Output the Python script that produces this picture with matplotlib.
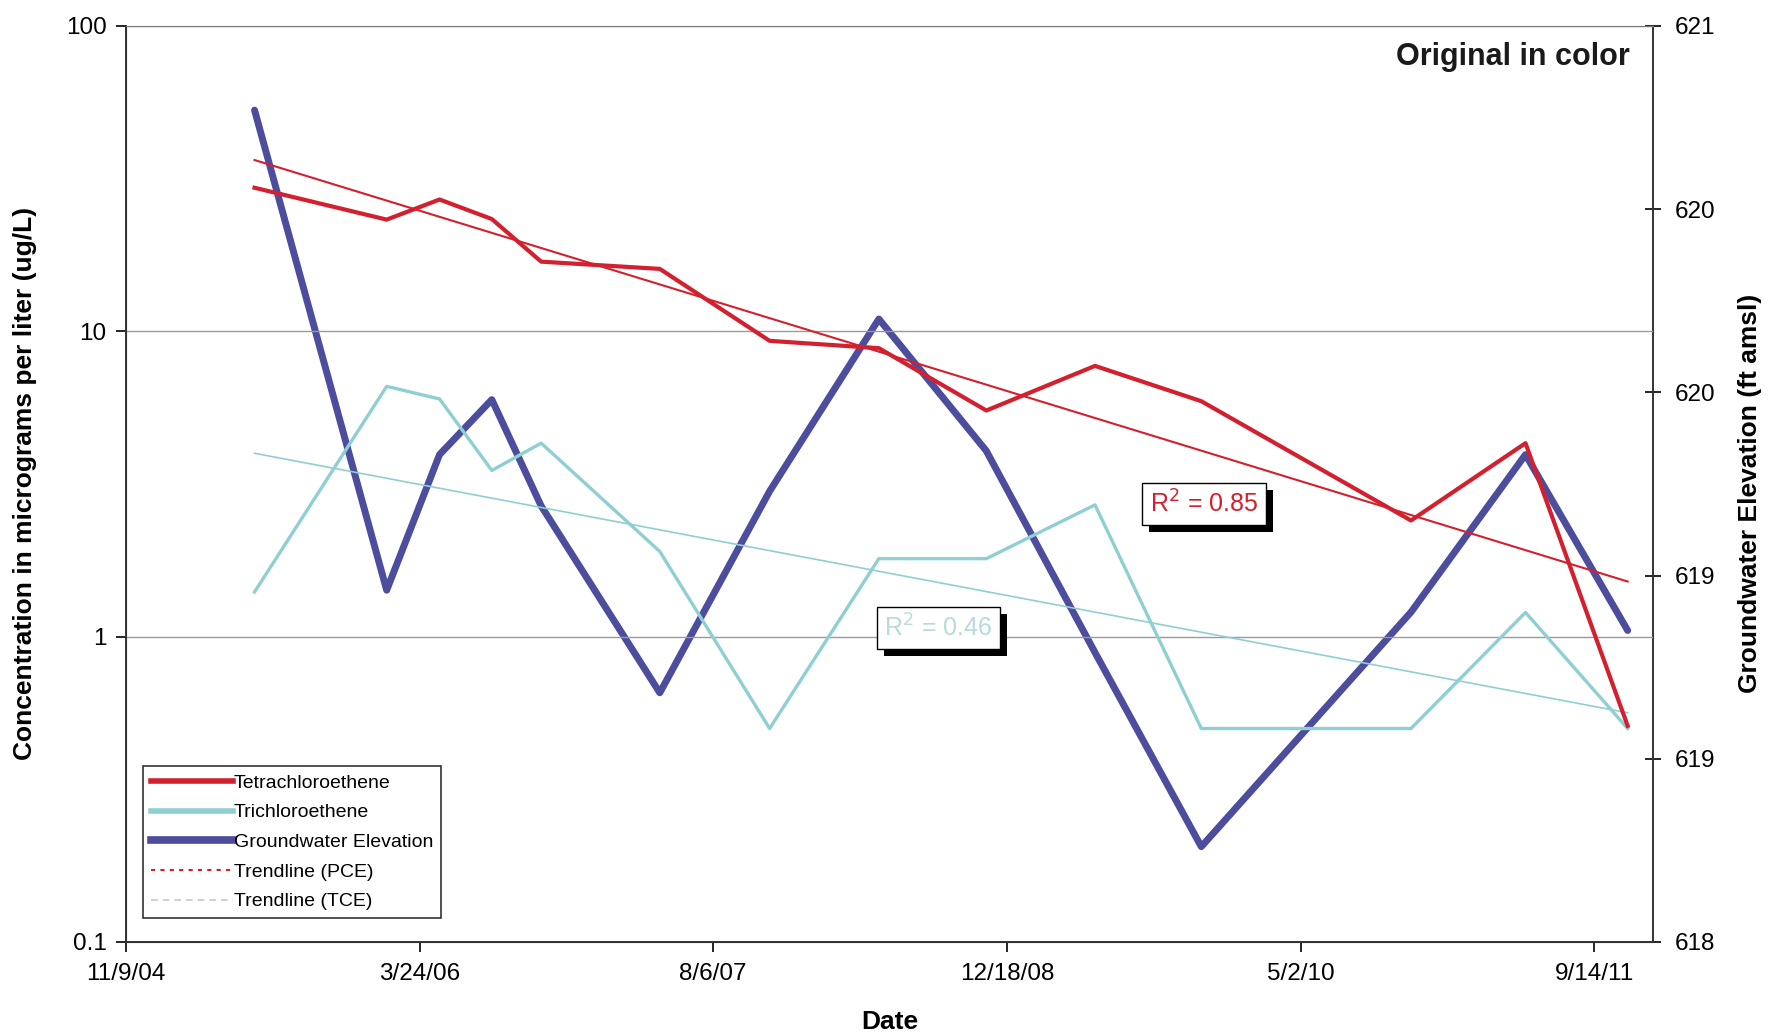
import numpy as np
import pandas as pd
import matplotlib
matplotlib.use('Agg')
import matplotlib.pyplot as plt
import matplotlib.dates as mdates
import matplotlib.patheffects as pe
from matplotlib.lines import Line2D
from matplotlib.ticker import FixedLocator, FuncFormatter, NullLocator

plt.rcParams['font.family'] = ['Liberation Sans', 'DejaVu Sans']

# sampling events
sample_dates = pd.to_datetime([
    '2005-06-16', '2006-01-27', '2006-04-27', '2006-07-25', '2006-10-17',
    '2007-05-07', '2007-11-10', '2008-05-14', '2008-11-13', '2009-05-17',
    '2009-11-14', '2010-11-06', '2011-05-20', '2011-11-10'])

# concentrations, ug/L
pce = [29.5, 23.2, 27.0, 23.3, 16.9, 16.0, 9.3, 8.8, 5.5, 7.7, 5.9, 2.4, 4.3, 0.51]
tce = [1.4, 6.6, 6.0, 3.5, 4.3, 1.9, 0.5, 1.8, 1.8, 2.7, 0.5, 0.5, 1.2, 0.5]

# groundwater elevation, ft amsl
gw_elev = [620.27, 618.96, 619.33, 619.48, 619.19, 618.68, 619.23, 619.70,
           619.34, 618.79, 618.26, 618.90, 619.33, 618.85]

conc_ticks = [0.1, 1, 10, 100]
elev_ticks = [618, 618.5, 619, 619.5, 620, 620.5]
date_ticks = pd.date_range('2004-11-09', periods=6, freq='500D')
x_end = pd.Timestamp('2011-12-23')
r2_text = ['0.85', '0.46']

red = '#d3202f'
cyan = '#8fcfd2'
blue = '#4d4d9e'


def exp_trend(dates, vals):
    # excel style exponential trendline: fit ln(y) against date
    t = mdates.date2num(dates)
    coef = np.polyfit(t, np.log(vals), 1)
    return np.exp(np.polyval(coef, t))


fig = plt.figure(figsize=(17.81, 10.34), dpi=100)
ax = fig.add_axes([0.0707, 0.089, 0.8574, 0.886])
ax2 = ax.twinx()
ax.set_zorder(ax2.get_zorder() + 1)
ax.patch.set_visible(False)

ax2.plot(sample_dates, gw_elev, color=blue, lw=5, solid_capstyle='round', zorder=2)

ax.plot(sample_dates, tce, color=cyan, lw=2.4, zorder=3)
ax.plot(sample_dates, exp_trend(sample_dates, tce), color=cyan, lw=1.2, zorder=3)
ax.plot(sample_dates, pce, color=red, lw=3, zorder=4)
ax.plot(sample_dates, exp_trend(sample_dates, pce), color=red, lw=1.5, zorder=4)

ax.set_yscale('log')
ax.set_ylim(conc_ticks[0], conc_ticks[-1])
ax.yaxis.set_major_locator(FixedLocator(conc_ticks))
ax.yaxis.set_minor_locator(NullLocator())
ax.yaxis.set_major_formatter(FuncFormatter(lambda v, p: '%g' % v))
ax.grid(axis='y', color='#9a9a9a', lw=1)

ax.set_xlim(date_ticks[0], x_end)
ax.set_xticks(date_ticks)
ax.set_xticklabels([f'{d.month}/{d.day}/{d:%y}' for d in date_ticks])

ax2.set_ylim(elev_ticks[0], elev_ticks[-1])
ax2.set_yticks(elev_ticks)
ax2.yaxis.set_major_formatter(FuncFormatter(lambda v, p: '%d' % int(v + 0.5)))

ax.tick_params(axis='x', direction='out', length=7, width=1.2, pad=8, labelsize=17.5)
ax.tick_params(axis='y', direction='out', length=7, width=1.2, pad=7, labelsize=17.5)
ax2.tick_params(axis='y', direction='inout', length=11, width=1.2, pad=10, labelsize=17.5)

for s in ['left', 'bottom']:
    ax.spines[s].set_color('#333333')
    ax.spines[s].set_linewidth(1.4)
ax.spines['top'].set_color('#777777')
ax.spines['right'].set_visible(False)
ax2.spines['right'].set_color('#333333')
ax2.spines['right'].set_linewidth(1.4)
ax2.spines['top'].set_visible(False)

ax.set_xlabel('Date', fontsize=19, fontweight='bold', labelpad=18)
ax.set_ylabel('Concentration in micrograms per liter (ug/L)', fontsize=19, fontweight='bold')
ax.yaxis.set_label_coords(-0.058, 0.5)
ax2.set_ylabel('Groundwater Elevation (ft amsl)', fontsize=19, fontweight='bold')
ax2.yaxis.set_label_coords(1.056, 0.49)

ax.text(0.985, 0.957, 'Original in color', transform=ax.transAxes, ha='right',
        va='baseline', fontsize=22, fontweight='heavy', color='#1a1a1a')

# R-squared boxes with drop shadow
for txt, col, xy in [(r2_text[0], red, (0.706, 0.478)),
                     (r2_text[1], '#b9dadd', (0.532, 0.343))]:
    t = ax.text(xy[0], xy[1], 'R$^2$ = ' + txt, transform=ax.transAxes, ha='center',
                va='center', fontsize=18, color=col, zorder=10,
                bbox=dict(boxstyle='square,pad=0.3', fc='white', ec='black', lw=1))
    t.get_bbox_patch().set_path_effects([
        pe.SimplePatchShadow(offset=(5, -5), shadow_rgbFace='black', alpha=1),
        pe.Normal()])

handles = [
    Line2D([], [], color=red, lw=4),
    Line2D([], [], color=cyan, lw=4),
    Line2D([], [], color=blue, lw=5.5),
    Line2D([], [], color=red, lw=1.5, ls=(0, (2, 2.5))),
    Line2D([], [], color='#c8c8c8', lw=1.2, ls=(0, (4, 3))),
]
labels = ['Tetrachloroethene', 'Trichloroethene', 'Groundwater Elevation',
          'Trendline (PCE)', 'Trendline (TCE)']
leg = ax.legend(handles, labels, loc='lower left', bbox_to_anchor=(0.0115, 0.026),
                borderaxespad=0, fontsize=14, handlelength=4.2, handletextpad=0.05,
                labelspacing=0.62, borderpad=0.4, fancybox=False, framealpha=1)
leg.get_frame().set_edgecolor('#333333')
leg.get_frame().set_linewidth(1.2)
leg.set_zorder(11)

fig.savefig('out.png', dpi=100)
